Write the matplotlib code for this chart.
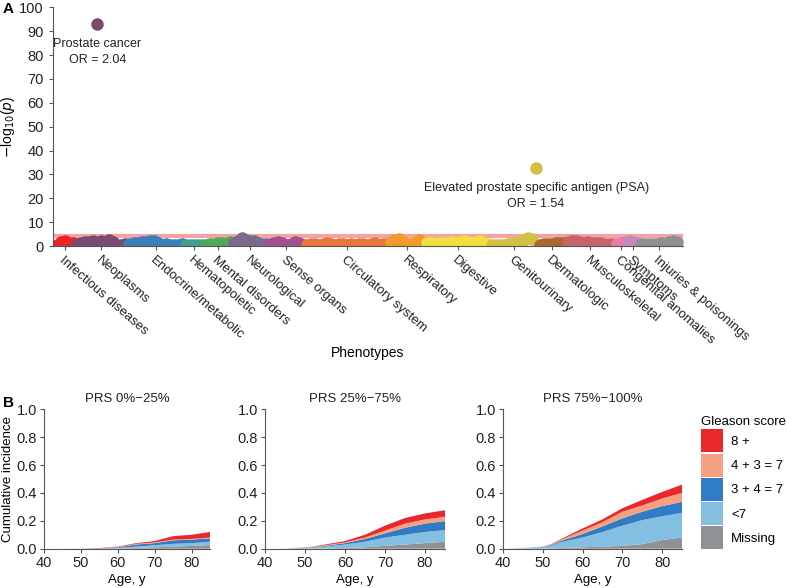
import numpy as np
import matplotlib
matplotlib.use('Agg')
import matplotlib.pyplot as plt
from matplotlib.patches import Patch

plt.rcParams['font.family'] = ['Liberation Sans', 'DejaVu Sans']
plt.rcParams['axes.edgecolor'] = '#555555'
plt.rcParams['xtick.color'] = '#555555'
plt.rcParams['ytick.color'] = '#555555'
plt.rcParams['xtick.labelcolor'] = '#222222'
plt.rcParams['ytick.labelcolor'] = '#222222'

# ---- panel A data: -log10(p) for each phenotype, grouped by category ----
categories = ['Infectious diseases', 'Neoplasms', 'Endocrine/metabolic', 'Hematopoietic',
              'Mental disorders', 'Neurological', 'Sense organs', 'Circulatory system',
              'Respiratory', 'Digestive', 'Genitourinary', 'Dermatologic',
              'Musculoskeletal', 'Congenital anomalies', 'Symptoms', 'Injuries & poisonings']
cat_colors = ['#E8262A', '#7A4B6E', '#3A7FB8', '#3EA08E', '#4DAA5A', '#7A6A8E',
              '#A3508E', '#E8763A', '#F39A2C', '#F2E03C', '#D4BE45', '#A8692E',
              '#C86468', '#E87AB0', '#C48AB8', '#8E9094']
logp = [
    [0.4, 1.6, 1.9, 1.4, 1.3],
    [0.8, 1.3, 1.6, 1.8, 2.0, 92.8, 2.3, 1.6, 2.5, 1.8, 0.6, 0.3, 0.8],
    [0.8, 1.1, 1.3, 1.6, 1.6, 1.9, 2.2, 1.3, 0.6, 0.8, 0.4, 0.6, 0.3, 1.0],
    [0.4, 0.3, 0.5, 0.4, 0.6],
    [0.6, 0.8, 1.0, 1.3, 1.1, 0.7, 1.6],
    [1.3, 2.2, 3.3, 2.7, 1.9, 2.2, 1.3, 0.8, 1.0],
    [0.8, 1.3, 1.6, 1.3, 0.6, 0.8, 1.7, 1.3, 0.6],
    [0.4, 0.8, 1.0, 0.6, 0.9, 1.1, 0.7, 0.5, 0.8, 1.0, 0.6, 0.8, 0.4, 0.7, 0.9,
     0.5, 0.8, 1.1, 0.6, 0.8, 1.0],
    [1.6, 2.7, 3.1, 2.2, 1.0, 0.8, 1.1, 2.7, 1.3],
    [1.3, 1.1, 1.0, 1.3, 1.2, 1.4, 1.6, 1.0, 1.6, 2.0, 1.8, 1.3, 1.6, 2.1, 1.3, 0.8],
    [0.4, 0.5, 0.6, 0.5, 0.8, 0.7, 1.1, 1.8, 2.7, 3.4, 2.9, 32.5],
    [0.6, 0.8, 1.0, 0.8, 1.1, 1.3, 1.1],
    [1.6, 1.9, 2.1, 1.8, 1.4, 1.6, 1.1, 1.3, 1.4, 1.0, 0.8, 1.0],
    [0.8, 1.3, 1.7],
    [2.0, 1.6, 1.3],
    [0.8, 1.0, 0.8, 0.7, 0.9, 1.1, 1.0, 1.6, 1.9, 1.7],
]
threshold = 4.3
hits = {(1, 5): 'Prostate cancer\nOR = 2.04',
        (10, 11): 'Elevated prostate specific antigen (PSA)\nOR = 1.54'}

# ---- panel B data: cumulative incidence per Gleason group ----
ages = [40, 45, 50, 52, 55, 60, 65, 70, 75, 80, 85]
prs_groups = ['PRS 0%\u221225%', 'PRS 25%\u221275%', 'PRS 75%\u2212100%']
gleason = ['Missing', '<7', '3 + 4 = 7', '4 + 3 = 7', '8 +']
gl_colors = ['#8E9196', '#84BFE1', '#2F7BC4', '#F4A182', '#E8282B']
inc_low = [
    [0, 0, 0, 0, 0, 0.002, 0.005, 0.010, 0.015, 0.020, 0.026],
    [0, 0, 0, 0, 0.001, 0.004, 0.010, 0.015, 0.020, 0.020, 0.024],
    [0, 0, 0, 0.001, 0.001, 0.004, 0.015, 0.015, 0.025, 0.025, 0.024],
    [0, 0, 0, 0, 0.001, 0.002, 0.005, 0.005, 0.005, 0.005, 0.006],
    [0, 0, 0.001, 0.001, 0.002, 0.003, 0.005, 0.010, 0.025, 0.030, 0.040],
]
inc_mid = [
    [0, 0, 0, 0.001, 0.002, 0.005, 0.010, 0.020, 0.030, 0.040, 0.050],
    [0, 0, 0.005, 0.007, 0.013, 0.025, 0.040, 0.060, 0.070, 0.080, 0.083],
    [0, 0, 0.002, 0.003, 0.005, 0.010, 0.020, 0.030, 0.050, 0.060, 0.065],
    [0, 0, 0.002, 0.002, 0.005, 0.005, 0.010, 0.020, 0.030, 0.030, 0.031],
    [0, 0, 0.001, 0.002, 0.005, 0.010, 0.020, 0.035, 0.040, 0.043, 0.047],
]
inc_high = [
    [0, 0, 0.002, 0.003, 0.005, 0.010, 0.015, 0.020, 0.033, 0.062, 0.080],
    [0, 0.005, 0.013, 0.017, 0.045, 0.070, 0.105, 0.145, 0.172, 0.171, 0.177],
    [0, 0, 0, 0.005, 0.010, 0.025, 0.040, 0.053, 0.060, 0.072, 0.079],
    [0, 0, 0.001, 0.005, 0.010, 0.025, 0.030, 0.047, 0.045, 0.055, 0.064],
    [0, 0, 0, 0.002, 0.005, 0.015, 0.020, 0.025, 0.040, 0.047, 0.060],
]

fig = plt.figure(figsize=(7.87, 5.88), dpi=100)

# ---- panel A ----
axA = fig.add_axes([53/787, 1-246/588, 630/787, 238.7/588])
axA.axhline(threshold, color='#F2A3A3', lw=3, zorder=1)
start = 0
ticks = []
for ci, vals in enumerate(logp):
    xs = np.arange(start, start + len(vals))
    axA.plot(xs, vals, 'o', ms=9, color=cat_colors[ci], mec='none', zorder=2)
    ticks.append(xs.mean())
    for (c, k), txt in hits.items():
        if c == ci:
            axA.annotate(txt, (xs[k], vals[k]), xytext=(0, -10), textcoords='offset points',
                         ha='center', va='top', fontsize=9, linespacing=1.4, color='#222222')
    start += len(vals)
axA.set_xlim(-1, start + 0.5)
axA.set_ylim(0, 100)
axA.set_yticks(range(0, 101, 10))
axA.set_xticks(ticks)
axA.set_xticklabels(categories, rotation=-41, ha='left', va='top',
                    rotation_mode='anchor', fontsize=9.5)
axA.tick_params(axis='x', length=3, pad=3)
axA.tick_params(axis='y', length=3, labelsize=10.5)
axA.spines['top'].set_visible(False)
axA.spines['right'].set_visible(False)
axA.set_ylabel(r'$-$log$_{10}$($\it{p}$)', fontsize=10)
axA.yaxis.set_label_coords(-0.057, 0.5)
fig.text(368/787, 1-353/588, 'Phenotypes', ha='center', va='center', fontsize=10)

# ---- panel B ----
lefts = [44, 265, 503]
widths = [166, 180, 179]
for i, data in enumerate([inc_low, inc_mid, inc_high]):
    ax = fig.add_axes([lefts[i]/787, 1-548.7/588, widths[i]/787, 139.4/588])
    ax.stackplot(ages, *data, colors=gl_colors, lw=0)
    ax.set_xlim(40, 85)
    ax.set_ylim(0, 1)
    ax.set_xticks([40, 50, 60, 70, 80])
    ax.set_yticks([0, 0.2, 0.4, 0.6, 0.8, 1.0])
    ax.set_yticklabels(['0.0', '0.2', '0.4', '0.6', '0.8', '1.0'])
    ax.tick_params(length=3, labelsize=10.5, pad=2)
    ax.spines['top'].set_visible(False)
    ax.spines['right'].set_visible(False)
    ax.set_title(prs_groups[i], fontsize=9.5, pad=5, color='#222222')
    ax.set_xlabel('Age, y', fontsize=9.5, labelpad=3)
    if i == 0:
        ax.set_ylabel('Cumulative incidence', fontsize=9.5)
        ax.yaxis.set_label_coords(-0.18, 0.5)

handles = [Patch(facecolor=c, edgecolor='none') for c in gl_colors[::-1]]
leg = fig.legend(handles, gleason[::-1], title='Gleason score', loc='upper left',
                 bbox_to_anchor=(701/787, 1-416/588), frameon=False, fontsize=9.5,
                 title_fontsize=9.5, handlelength=1.7, handleheight=2.3,
                 labelspacing=0.1, handletextpad=0.6, borderpad=0, borderaxespad=0)
leg._legend_box.align = 'left'

fig.text(3/787, 1-2/588, 'A', fontsize=11, fontweight='bold', va='top')
fig.text(3/787, 1-396/588, 'B', fontsize=11, fontweight='bold', va='top')

fig.savefig('out.png', dpi=100)
